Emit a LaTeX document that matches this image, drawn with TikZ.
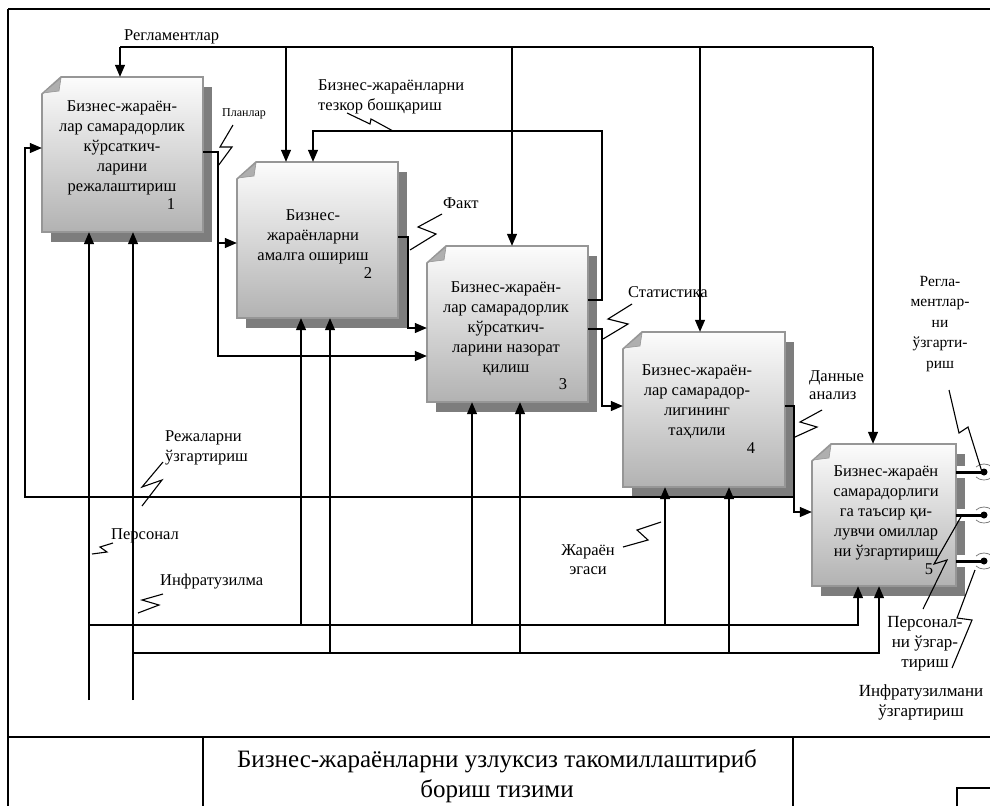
\documentclass[tikz,border=0pt]{standalone}
\usepackage{fontspec}
\setmainfont{Liberation Serif}
\usetikzlibrary{arrows.meta,calc}
\definecolor{shadowc}{RGB}{125,125,125}
\definecolor{boxedge}{RGB}{150,150,150}
\definecolor{boxtop}{RGB}{252,252,252}
\definecolor{boxbot}{RGB}{178,178,178}
\definecolor{flapc}{RGB}{175,175,175}
\newcommand\procbox[5]{%
  \fill[shadowc] (#2+9,#3+10) rectangle (#4+9,#5+10);
  \path[draw=boxedge,line width=1.6pt,top color=boxtop,bottom color=boxbot]
    (#2,#3+17) -- (#2+19,#3) -- (#4,#3) -- (#4,#5) -- (#2,#5) -- cycle;
  \fill[flapc,draw=boxedge,line width=0.6pt] (#2+1,#3+16) -- (#2+19,#3+1) -- (#2+17,#3+14) -- cycle;
  \node[inner sep=0pt,minimum width={(#4-#2)*1pt},minimum height={(#5-#3)*1pt}] (#1) at ({(#2+#4)/2},{(#3+#5)/2}) {};
}
\newcommand\tunnel[2]{%
  \fill[white] (957,#2-6) rectangle (967,#2+6);
  \draw[line width=3pt] (#1.east |- 0,#2) -- (984,#2);
  \fill (984,#2) circle (3.5);
  \draw[gray,line width=0.8pt] (976,#2-5) .. controls (980,#2-9) and (988,#2-9) .. (992,#2-5);
  \draw[gray,line width=0.8pt] (976,#2+5) .. controls (980,#2+9) and (988,#2+9) .. (992,#2+5);
}
\begin{document}
\begin{tikzpicture}[x=1pt,y=-1pt,
  conn/.style={line width=1.2pt},
  arr/.style={line width=1.2pt,-{Triangle[length=12pt,width=10pt]}},
  zig/.style={line width=1.1pt,line join=miter},
  lbl/.style={font=\fontsize{16.5}{20}\selectfont,inner sep=0pt},
  boxtext/.style={font=\fontsize{16.5}{20}\selectfont,align=center,inner sep=0pt},
  numtext/.style={font=\fontsize{16.5}{20}\selectfont,inner sep=0pt}]
\useasboundingbox (0,0) rectangle (990,806);
\fill[white] (0,0) rectangle (990,806);
% frame
\draw[line width=2pt] (8,9) -- (990,9);
\draw[line width=1.5pt] (8,9) -- (8,806);
\draw[line width=1.5pt] (8,737) -- (990,737);
\draw[line width=1.2pt] (203,737) -- (203,806);
\draw[line width=1.2pt] (793,737) -- (793,806);
\draw[line width=1.5pt] (957,806) -- (957,788) -- (990,788);
\node[font=\fontsize{25}{30}\selectfont,align=center,inner sep=0pt] (title) at (497,776)
  {Бизнес-жараёнларни узлуксиз такомиллаштириб\\бориш тизими};

% boxes
\procbox{b1}{42}{77}{203}{232}
\procbox{b2}{237}{162}{398}{318}
\procbox{b3}{427}{246}{588}{402}
\procbox{b4}{623}{332}{785}{487}
\procbox{b5}{812}{444}{956}{586}

\node[boxtext] (t1) at (122,148) {Бизнес-жараён-\\лар самарадорлик\\кўрсаткич-\\ларини\\режалаштириш};
\node[numtext] (n1) at (171,204) {1};
\node[boxtext] (t2) at (313,237) {Бизнес-\\жараёнларни\\амалга ошириш};
\node[numtext] (n2) at (368,273) {2};
\node[boxtext] (t3) at (506,329) {Бизнес-жараён-\\лар самарадорлик\\кўрсаткич-\\ларини назорат\\қилиш};
\node[numtext] (n3) at (563,384) {3};
\node[boxtext] (t4) at (697,402) {Бизнес-жараён-\\лар самарадор-\\лигининг\\таҳлили};
\node[numtext] (n4) at (751,448) {4};
\node[boxtext] (t5) at (886,513) {Бизнес-жараён\\самарадорлиги\\га таъсир қи-\\лувчи омиллар\\ни ўзгартириш};
\node[numtext] (n5) at (929,569) {5};

% controls (top bus)
\coordinate (bus0) at (120,47);
\coordinate (bus1) at (873,47);
\draw[conn] (bus0) -- (bus1);
\draw[arr] (bus0) -- (120,0 |- b1.north);
\draw[arr] (286,47) -- (286,0 |- b2.north);
\draw[arr] (512,47) -- (512,0 |- b3.north);
\draw[arr] (700,47) -- (700,0 |- b4.north);
\draw[arr] (bus1) -- (873,0 |- b5.north);

% feedback: operative management
\draw[arr] (b3.east |- 0,300) -- (602,300) -- (602,131) -- (313,131) -- (313,0 |- b2.north);

% outputs
\draw[arr] (b1.east |- 0,152) -- (218,152) -- (218,243) -- (b2.west |- 0,243);
\draw[arr] (218,243) -- (218,356) -- (b3.west |- 0,356);
\draw[arr] (b2.east |- 0,237) -- (408,237) -- (408,328) -- (b3.west |- 0,328);
\draw[arr] (b3.east |- 0,329) -- (602,329) -- (602,406) -- (b4.west |- 0,406);
\draw[arr] (b4.east |- 0,406) -- (794,406) -- (794,512) -- (b5.west |- 0,512);
\draw[arr] (794,497) -- (25,497) -- (25,148) -- (b1.west |- 0,148);

% mechanisms
\coordinate (m1) at (89,700);
\coordinate (m2) at (133,700);
\draw[arr] (m1) -- (89,0 |- b1.south);
\draw[arr] (m2) -- (133,0 |- b1.south);
\draw[arr] (89,625) -- (858,625) -- (858,0 |- b5.south);
\draw[arr] (133,653) -- (879,653) -- (879,0 |- b5.south);
\draw[arr] (301,625) -- (301,0 |- b2.south);
\draw[arr] (330,653) -- (330,0 |- b2.south);
\draw[arr] (472,625) -- (472,0 |- b3.south);
\draw[arr] (520,653) -- (520,0 |- b3.south);
\draw[arr] (665,625) -- (665,0 |- b4.south);
\draw[arr] (729,653) -- (729,0 |- b4.south);

% box 5 outputs (tunnelled)
\tunnel{b5}{472}
\tunnel{b5}{515}
\tunnel{b5}{561}

% labels
\node[lbl,anchor=west] (lReg) at (124,37) {Регламентлар};
\node[lbl,anchor=west,font=\fontsize{12}{14}\selectfont] (lPlan) at (222,114) {Планлар};
\node[lbl,anchor=west,align=left] (lTez) at (318,97) {Бизнес-жараёнларни\\тезкор бошқариш};
\node[lbl,anchor=west] (lFakt) at (443,203) {Факт};
\node[lbl,anchor=west] (lStat) at (628,292) {Статистика};
\node[lbl,anchor=west,align=left,font=\fontsize{16.5}{18}\selectfont] (lDan) at (809,385) {Данные\\анализ};
\node[lbl,align=center,font=\fontsize{15.5}{20.5}\selectfont] (lRegZ) at (940,324) {Регла-\\ментлар-\\ни\\ўзгарти-\\риш};
\node[lbl,align=center,font=\fontsize{17}{20}\selectfont] (lPersZ) at (925,644) {Персонал-\\ни ўзгар-\\тириш};
\node[lbl,align=center,font=\fontsize{17}{20}\selectfont] (lInfZ) at (921,702) {Инфратузилмани\\ўзгартириш};
\node[lbl,anchor=west,align=left] (lRejZ) at (165,448) {Режаларни\\ўзгартириш};
\node[lbl,anchor=west] (lPers) at (111,536) {Персонал};
\node[lbl,anchor=west] (lInf) at (160,582) {Инфратузилма};
\node[lbl,align=center,font=\fontsize{16.5}{19}\selectfont] (lJar) at (588,560) {Жараён\\эгаси};

% lightning squiggles
\draw[zig] (233,125) -- (220,147) -- (232,147) -- (218,166);
\draw[zig] (347,113) -- (370,124) -- (371,119) -- (393,131);
\draw[zig] (442,214) -- (418,227) -- (436,234) -- (410,250);
\draw[zig] (632,304) -- (608,319) -- (628,324) -- (603,339);
\draw[zig] (822,410) -- (800,422) -- (817,427) -- (795,437);
\draw[zig] (949,390) -- (959,433) -- (968,427) -- (982,472);
\draw[zig] (923,609) -- (947,560) -- (934,564) -- (962,515);
\draw[zig] (975,570) -- (957,618) -- (972,620) -- (952,668);
\draw[zig] (163,462) -- (142,487) -- (162,480) -- (142,506);
\draw[zig] (113,543) -- (100,547) -- (107,552) -- (92,554);
\draw[zig] (163,594) -- (142,600) -- (159,605) -- (138,613);
\draw[zig] (623,547) -- (648,540) -- (637,530) -- (661,522);
\end{tikzpicture}
\end{document}
